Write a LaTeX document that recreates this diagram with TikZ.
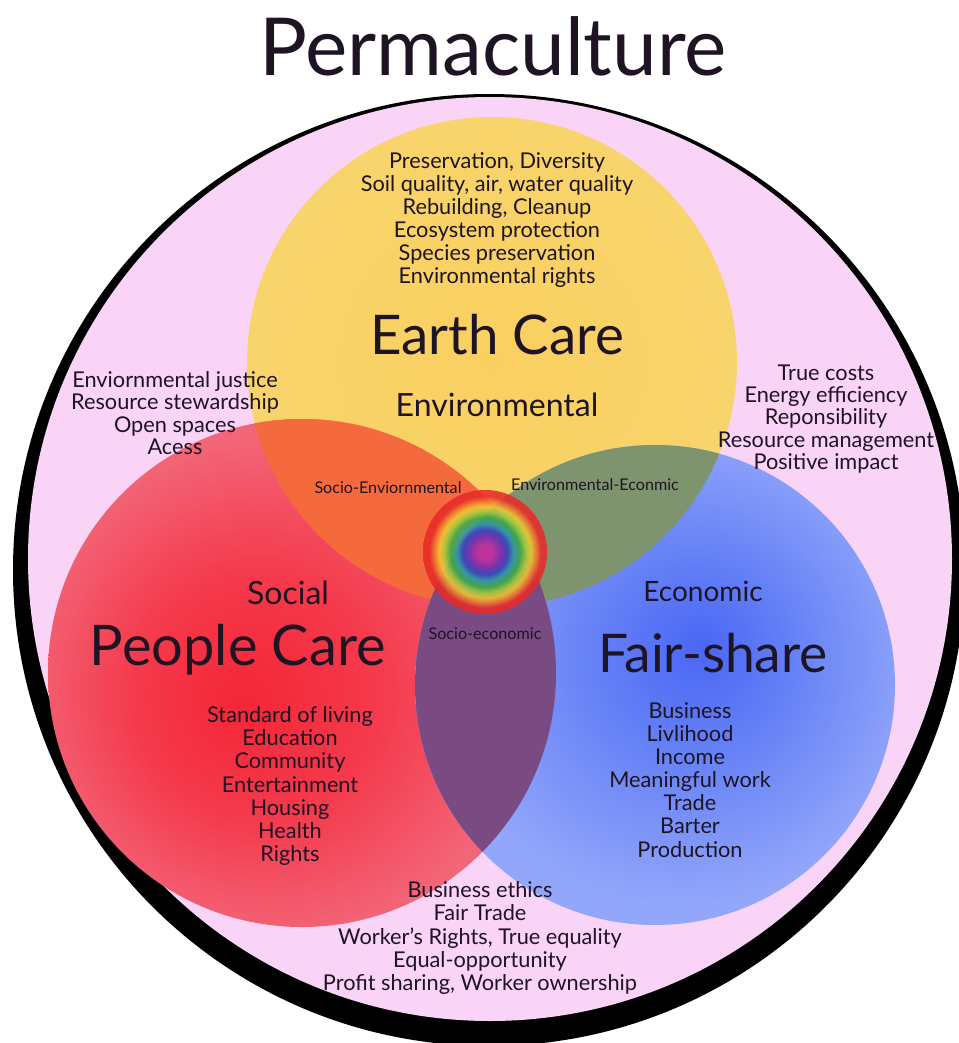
\documentclass[tikz,border=0pt]{standalone}
\usepackage{fontspec}
\setmainfont{Lato}
\definecolor{pinkbg}{HTML}{F9D4F6}
\definecolor{yellowc}{HTML}{F8D46C}
\definecolor{yellowin}{HTML}{F9D060}
\definecolor{redin}{HTML}{F42636}
\definecolor{redmid}{HTML}{F43A4C}
\definecolor{redout}{HTML}{F26678}
\definecolor{bluein}{HTML}{4A66F4}
\definecolor{bluemid}{HTML}{6480F6}
\definecolor{blueout}{HTML}{92A6FA}
\definecolor{orangec}{HTML}{F46A3C}
\definecolor{greenc}{HTML}{7E946E}
\definecolor{purplec}{HTML}{7A4A82}
\definecolor{txt}{HTML}{1E1424}
\definecolor{rbmag}{HTML}{C8309E}
\definecolor{rbpur}{HTML}{7A30B0}
\definecolor{rbblu}{HTML}{3648C0}
\definecolor{rbtea}{HTML}{2EA0A8}
\definecolor{rbgrn}{HTML}{3CB040}
\definecolor{rbylg}{HTML}{A8D040}
\definecolor{rbyel}{HTML}{F2C832}
\definecolor{rbora}{HTML}{F07A30}
\definecolor{rbred}{HTML}{E82A2A}
\pgfdeclareradialshading{rainbow}{\pgfpoint{0bp}{0bp}}{%
color(0bp)=(rbmag); color(3bp)=(rbmag); color(6.5bp)=(rbpur); color(9bp)=(rbblu);
color(11.5bp)=(rbtea); color(14bp)=(rbgrn); color(16.5bp)=(rbylg); color(18.5bp)=(rbyel);
color(20.5bp)=(rbora); color(22.5bp)=(rbred); color(25bp)=(rbred); color(50bp)=(rbred)}
\pgfdeclareradialshading{redsh}{\pgfpoint{-6bp}{-3bp}}{%
color(0bp)=(redin); color(12bp)=(redmid); color(25bp)=(redout); color(50bp)=(redout)}
\pgfdeclareradialshading{bluesh}{\pgfpoint{5bp}{4bp}}{%
color(0bp)=(bluein); color(10bp)=(bluemid); color(25bp)=(blueout); color(50bp)=(blueout)}
\pgfdeclareradialshading{yellowsh}{\pgfpoint{0bp}{0bp}}{%
color(0bp)=(yellowin); color(25bp)=(yellowc); color(50bp)=(yellowc)}
\begin{document}
\begin{tikzpicture}[x=0.75pt,y=-0.75pt,
  every node/.style={inner sep=0pt, text=txt, align=center},
  listtext/.style={font=\fontsize{16.3}{17.3}\selectfont},
  sidetext/.style={font=\fontsize{16.3}{16.7}\selectfont},
  bigtext/.style={font=\fontsize{42}{46}\selectfont},
  midtext/.style={font=\fontsize{24}{28}\selectfont},
  smalltext/.style={font=\fontsize{12.1}{14}\selectfont}]
\useasboundingbox (0,0) rectangle (959,1043);
\clip (0,0) rectangle (959,1043);
\fill[white] (0,0) rectangle (959,1043);
% outer disc
\fill[black] (489,570) circle (476);
\fill[pinkbg] (490,559) circle (462);
% three circles
\shade[shading=yellowsh] (492,362) circle (245);
\shade[shading=redsh] (302,673) circle (254);
\shade[shading=bluesh] (655,685) circle (240);
% overlaps
\begin{scope}
  \clip (492,362) circle (245);
  \fill[orangec] (302,673) circle (254);
  \fill[greenc] (655,685) circle (240);
\end{scope}
\begin{scope}
  \clip (302,673) circle (254);
  \fill[purplec] (655,685) circle (240);
\end{scope}
% rainbow centre
\shade[shading=rainbow, opacity=0.88] (485,552) circle (62);
% title
\node[font=\fontsize{60}{64}\selectfont] (title) at (493,46) {Permaculture};
% Earth care
\node[listtext] (earthlist) at (497,220) {Preservation, Diversity\\Soil quality, air, water quality\\Rebuilding, Cleanup\\Ecosystem protection\\Species preservation\\Environmental rights};
\node[bigtext, font=\fontsize{41}{46}\selectfont] (earth) at (497,335) {Earth Care};
\node[midtext] (env) at (497,405) {Environmental};
% side lists
\node[sidetext] (leftlist) at (175,413) {Enviornmental justice\\Resource stewardship\\Open spaces\\Acess};
\node[sidetext] (rightlist) at (826,419) {True costs\\Energy efficiency\\Reponsibility\\Resource management\\Positive impact};
% overlap labels
\node[smalltext] (socenv) at (388,488) {Socio-Enviornmental};
\node[smalltext] (envecon) at (595,485) {Environmental-Econmic};
\node[smalltext] (socecon) at (485,634) {Socio-economic};
% people care
\node[midtext] (social) at (288,593) {Social};
\node[bigtext] (people) at (238,650) {People Care};
\node[listtext] (peoplelist) at (290,786) {Standard of living\\Education\\Community\\Entertainment\\Housing\\Health\\Rights};
% fair share
\node[midtext, font=\fontsize{21}{24}\selectfont] (econ) at (703,591) {Economic};
\node[font=\fontsize{40}{44}\selectfont] (fair) at (713,653) {Fair-share};
\node[listtext] (fairlist) at (690,780) {Business\\Livlihood\\Income\\Meaningful work\\Trade\\Barter\\Production};
% bottom
\node[listtext] (bottomlist) at (480,938) {Business ethics\\Fair Trade\\Worker's Rights, True equality\\Equal-opportunity\\Profit sharing, Worker ownership};
\end{tikzpicture}
\end{document}
